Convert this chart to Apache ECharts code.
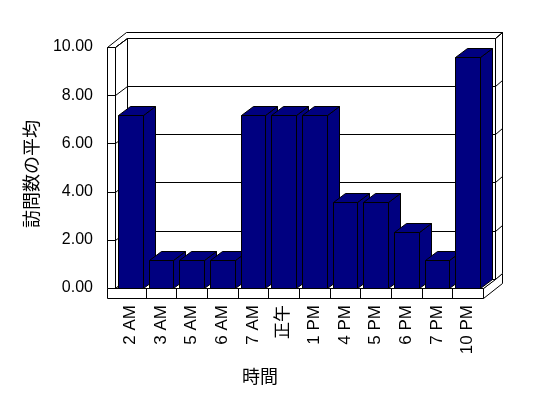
<!DOCTYPE html>
<html>
<head>
<meta charset="utf-8">
<script src="https://cdn.jsdelivr.net/npm/echarts@6/dist/echarts.min.js"></script>
<style>
html,body{margin:0;padding:0;background:#fff;}
#chart{width:548px;height:398px;}
</style>
</head>
<body>
<div id="chart"></div>
<script>
const categories = ['2 AM','3 AM','5 AM','6 AM','7 AM','正午','1 PM','4 PM','5 PM','6 PM','7 PM','10 PM'];
const values = [7.17,1.17,1.17,1.17,7.17,7.17,7.17,3.57,3.57,2.33,1.17,9.57];
const yTicks = [0,2,4,6,8,10];
const yTitle = '訪問数の平均';
const xTitle = '時間';

const FONT = '"Liberation Sans", Arial, "Noto Sans CJK JP", sans-serif';
const CJK = '"Noto Sans CJK JP", sans-serif';
const DX = 12, DY = -9.2;      // depth of plot box / bars
const TX = 7, TY = -6;         // back wall thickness
const WALL = 8.5;              // left wall thickness
const FLOOR = 9.7;             // floor thickness
const BAR_FRAC = 0.8;
const BAR_COLOR = '#000080';

function r(v){ return Math.round(v) + 0.5; }
function poly(pts, fill){
  return {type:'polygon', shape:{points: pts.map(p=>[r(p[0]), r(p[1])])},
    style:{fill: fill, stroke:'#000', lineWidth:1}};
}
function line(x1,y1,x2,y2){
  return {type:'line', shape:{x1:r(x1),y1:r(y1),x2:r(x2),y2:r(y2)},
    style:{stroke:'#000', lineWidth:1}};
}

function renderFrame(params, api){
  const n = categories.length;
  const bw = api.size([1,0])[0];
  const xL = api.coord([0,0])[0] - bw/2;
  const xR = api.coord([n-1,0])[0] + bw/2;
  const yOf = v => api.coord([0,v])[1];
  const yMax = yOf(yTicks[yTicks.length-1]);
  const y0 = yOf(0);
  const xBL = xL + DX, xBR = xR + DX;
  const yTopB = yMax + DY;
  const ch = [];
  ch.push(poly([[xR,y0],[xR+DX+TX,y0+DY+TY],[xR+DX+TX,y0+FLOOR+DY+TY],[xR,y0+FLOOR]],'#fff'));
  ch.push(poly([[xBR,yTopB],[xBR+TX,yTopB+TY],[xBR+TX,y0+DY+TY],[xBR,y0+DY]],'#fff'));
  ch.push(poly([[xL-WALL,yMax],[xL,yMax],[xBL,yTopB],[xBR,yTopB],[xBR+TX,yTopB+TY],[xL-WALL+DX+TX,yTopB+TY]],'#fff'));
  ch.push(poly([[xBL,yTopB],[xBR,yTopB],[xBR,y0+DY],[xBL,y0+DY]],'#fff'));
  ch.push(poly([[xL,yMax],[xBL,yTopB],[xBL,y0+DY],[xL,y0]],'#fff'));
  ch.push(poly([[xL-WALL,yMax],[xL,yMax],[xL,y0],[xL-WALL,y0]],'#fff'));
  ch.push(poly([[xL,y0],[xR,y0],[xBR,y0+DY],[xBL,y0+DY]],'#fff'));
  ch.push(poly([[xL-WALL,y0],[xR,y0],[xR,y0+FLOOR],[xL-WALL,y0+FLOOR]],'#fff'));
  for (let i=1;i<n;i++){
    const x = api.coord([i,0])[0] - bw/2;
    ch.push(line(x,y0,x,y0+FLOOR));
  }
  yTicks.forEach(v=>{
    if (v===0) return;
    const y = yOf(v);
    ch.push(line(xL-WALL,y,xL,y));
    ch.push(line(xL,y,xBL,y+DY));
    ch.push(line(xBL,y+DY,xBR,y+DY));
    ch.push(line(xBR,y+DY,xBR+TX,y+DY+TY));
  });
  return {type:'group', children: ch};
}

function renderBar(params, api){
  const i = api.value(0), v = api.value(1);
  const c = api.coord([i, v]);
  const b = api.coord([i, 0]);
  const bw = api.size([1,0])[0] * BAR_FRAC;
  const xl = c[0] - bw/2, xr = c[0] + bw/2;
  const yt = c[1], yb = b[1];
  return {type:'group', children:[
    poly([[xr,yt],[xr+DX,yt+DY],[xr+DX,yb+DY],[xr,yb]], BAR_COLOR),
    poly([[xl,yt],[xr,yt],[xr+DX,yt+DY],[xl+DX,yt+DY]], BAR_COLOR),
    poly([[xl,yt],[xr,yt],[xr,yb],[xl,yb]], BAR_COLOR)
  ]};
}

const chart = echarts.init(document.getElementById('chart'), null, {renderer:'canvas'});
chart.setOption({
  animation:false,
  backgroundColor:'#fff',
  grid:{left:115, right:65, top:47, bottom:110, containLabel:false},
  xAxis:{
    type:'category', data:categories,
    axisLine:{show:false}, axisTick:{show:false}, splitLine:{show:false},
    axisLabel:{interval:0, rotate:90, margin:17, color:'#000', fontSize:17, fontFamily:FONT, padding:[6,0,0,0]}
  },
  yAxis:{
    type:'value', min:yTicks[0], max:yTicks[yTicks.length-1], interval:2,
    axisLine:{show:false}, axisTick:{show:false}, splitLine:{show:false},
    axisLabel:{margin:22, color:'#000', fontSize:16, fontFamily:FONT, formatter:v=>v.toFixed(2)}
  },
  graphic:[
    {type:'text', x:31, y:174, rotation:Math.PI/2,
      style:{text:yTitle, fill:'#000', font:'18px '+CJK, textAlign:'center', textVerticalAlign:'middle'}},
    {type:'text', x:260, y:376,
      style:{text:xTitle, fill:'#000', font:'18px '+CJK, textAlign:'center', textVerticalAlign:'middle'}}
  ],
  series:[
    {type:'custom', renderItem:renderFrame, data:[[0,0]], silent:true, z:1},
    {type:'custom', renderItem:renderBar, data:values.map((v,i)=>[i,v]), z:2}
  ]
});
</script>
</body>
</html>
